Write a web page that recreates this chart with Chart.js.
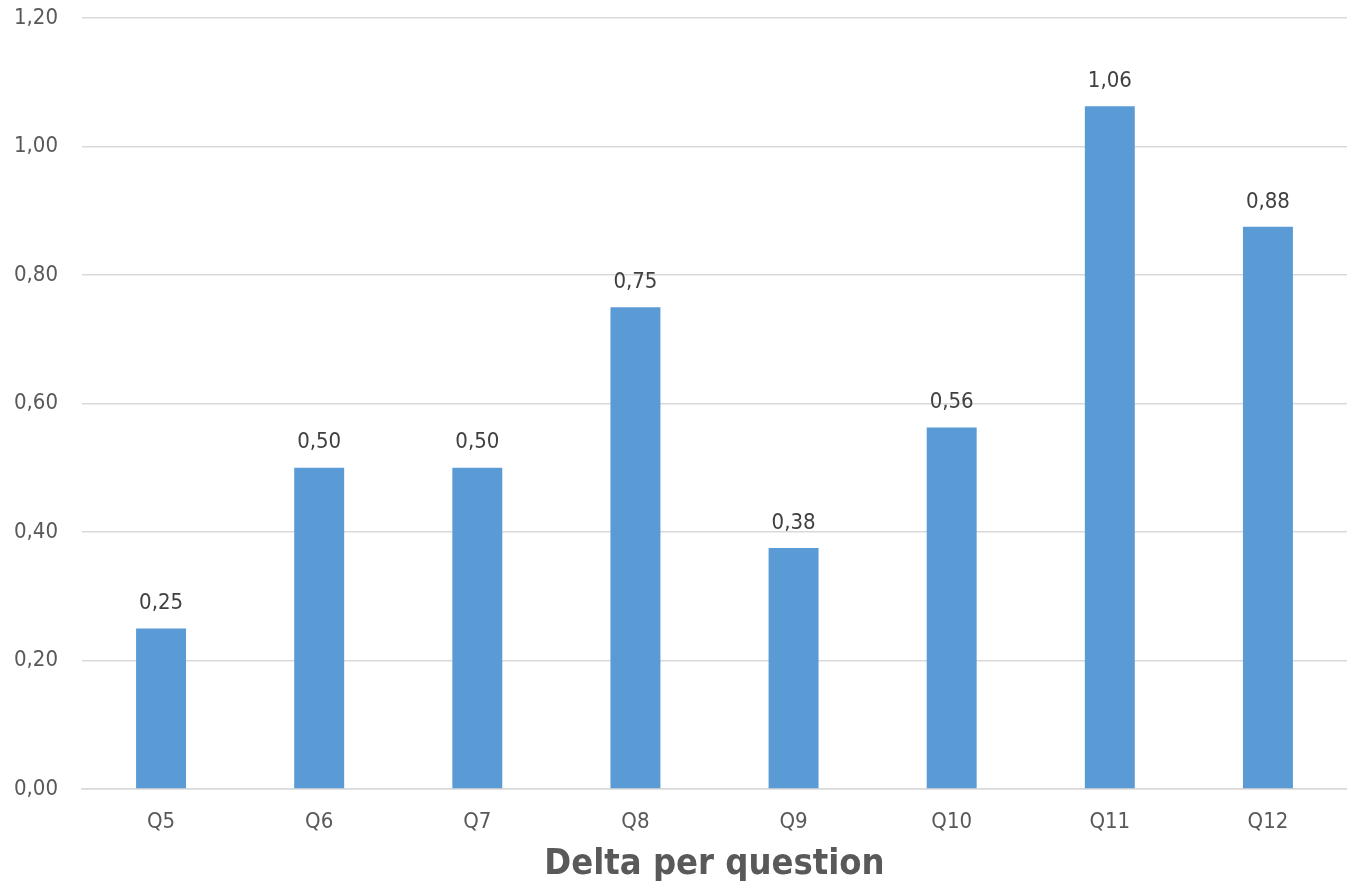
<!DOCTYPE html>
<html lang="en">
<head>
  <meta charset="UTF-8" />
  <title>Delta per question</title>
  <script src="https://cdn.jsdelivr.net/npm/chart.js"></script>
  <style>
    body {
      margin: 0;
      padding: 0;
      background: #ffffff;
    }
    .wrap {
      width: 1347px;
      height: 886px;
      position: relative;
    }
  </style>
</head>
<body>
  <div class="wrap">
    <canvas id="grafico"></canvas>
  </div>

  <script>
    const questions = ['Q5', 'Q6', 'Q7', 'Q8', 'Q9', 'Q10', 'Q11', 'Q12'];
    const deltas = [0.25, 0.5, 0.5, 0.75, 0.375, 0.5625, 1.0625, 0.875];
    const yTicks = [0, 0.2, 0.4, 0.6, 0.8, 1.0, 1.2];

    const fonte = "'DejaVu Sans Condensed', 'DejaVu Sans', sans-serif";

    function virgula(v) {
      return v.toFixed(2).replace('.', ',');
    }

    // rotulos em cima das barras
    const rotulos = {
      id: 'rotulos',
      afterDatasetsDraw(chart) {
        const ctx = chart.ctx;
        const meta = chart.getDatasetMeta(0);
        ctx.save();
        ctx.font = '22px ' + fonte;
        ctx.fillStyle = '#404040';
        ctx.textAlign = 'center';
        ctx.textBaseline = 'middle';
        meta.data.forEach((bar, i) => {
          ctx.fillText(virgula(deltas[i]), bar.x, bar.y - 25);
        });
        ctx.restore();
      }
    };

    new Chart(document.getElementById('grafico').getContext('2d'), {
      type: 'bar',
      data: {
        labels: questions,
        datasets: [{
          data: deltas,
          backgroundColor: '#5b9bd5',
          barPercentage: 0.316,
          categoryPercentage: 1
        }]
      },
      options: {
        responsive: true,
        maintainAspectRatio: false,
        animation: false,
        layout: { padding: 0 },
        plugins: {
          legend: { display: false },
          tooltip: { enabled: false }
        },
        scales: {
          y: {
            min: 0,
            max: 1.2,
            afterBuildTicks: axis => { axis.ticks = yTicks.map(v => ({ value: v })); },
            afterFit: axis => {
              axis.width = 82;
              axis.paddingTop = 18;
              axis.paddingBottom = 0;
            },
            grid: { color: '#d9d9d9', lineWidth: 1.5, drawTicks: false },
            border: { display: false },
            ticks: {
              color: '#595959',
              font: { family: fonte, size: 22 },
              padding: 24,
              callback: v => virgula(v)
            }
          },
          x: {
            afterFit: axis => {
              axis.height = 97;
              axis.paddingLeft = 0;
              axis.paddingRight = 0;
            },
            grid: { display: false, drawTicks: false },
            border: { color: '#d9d9d9', width: 1.5 },
            ticks: {
              color: '#595959',
              font: { family: fonte, size: 22 },
              padding: 20
            },
            title: {
              display: true,
              text: 'Delta per question',
              color: '#595959',
              font: { family: fonte, size: 36, weight: 'bold' },
              padding: { top: 6, bottom: 0 }
            }
          }
        }
      },
      plugins: [rotulos]
    });
  </script>
</body>
</html>
